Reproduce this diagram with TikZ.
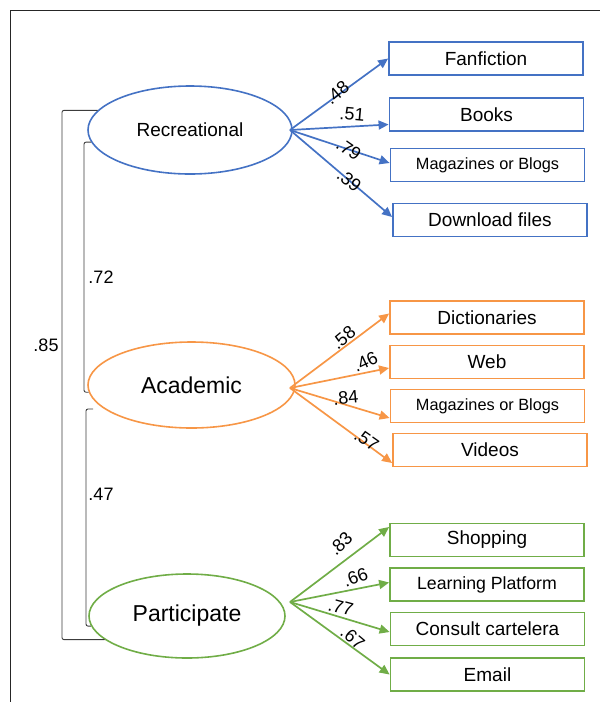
\documentclass[tikz,border=0pt]{standalone}
\usepackage{fontspec}
\setmainfont{Liberation Sans}
\usetikzlibrary{arrows.meta,shapes.geometric}
\definecolor{recblue}{RGB}{68,114,196}
\definecolor{acaorange}{RGB}{247,150,70}
\definecolor{pargreen}{RGB}{112,173,71}
\definecolor{brkgray}{RGB}{60,60,60}
\tikzset{
	factor/.style={ellipse, draw=#1, line width=1.6pt, text=black, inner sep=0pt},
	item/.style={draw=#1, line width=1.8pt, text=black, minimum width=194pt, minimum height=33pt, inner sep=0pt, font=\fontsize{19}{19}\selectfont},
	load/.style={line width=1.7pt, -{Triangle[length=10pt,width=9pt]}},
	lbl/.style={text=black, inner sep=0pt, font=\fontsize{18}{18}\selectfont},
	brk/.style={brkgray, line width=0.9pt, rounded corners=2pt},
}
\begin{document}
\begin{tikzpicture}[x=1pt,y=-1pt]
	\useasboundingbox (0,0) rectangle (600,702);
	\draw[line width=1pt, black!85] (10,702) -- (10,10) -- (600,10);

	% factors
	\node[factor=recblue, minimum width=204pt, minimum height=88pt, font=\fontsize{19}{19}\selectfont] (rec) at (190,130) {Recreational};
	\node[factor=acaorange, minimum width=207pt, minimum height=86pt, font=\fontsize{23}{23}\selectfont] (aca) at (191.5,385) {Academic};
	\node[factor=pargreen, minimum width=196pt, minimum height=84pt, font=\fontsize{23}{23}\selectfont] (par) at (187,616) {Participate};

	\coordinate (recout) at (290,130);
	\coordinate (acaout) at (290,388);
	\coordinate (parout) at (290,602);

	% items
	\node[item=recblue] (fan) at (486,58.5) {Fanfiction};
	\node[item=recblue] (books) at (486.5,114.5) {Books};
	\node[item=recblue, font=\fontsize{16.3}{16}\selectfont] (magrec) at (487.5,165) {Magazines or Blogs};
	\node[item=recblue] (down) at (490,220) {Download files};

	\node[item=acaorange] (dict) at (487,317.5) {Dictionaries};
	\node[item=acaorange] (web) at (487,362) {Web};
	\node[item=acaorange, font=\fontsize{16.3}{16}\selectfont] (magaca) at (487.5,406) {Magazines or Blogs};
	\node[item=acaorange] (vid) at (490,450) {Videos};

	\node[item=pargreen] (shop) at (487,540) {Shopping};
	\node[item=pargreen, font=\fontsize{17.7}{18}\selectfont] (learn) at (487,584.5) {Learning Platform};
	\node[item=pargreen] (consult) at (487.5,629) {Consult cartelera};
	\node[item=pargreen] (mail) at (487.5,674.5) {Email};

	% loadings
	\draw[load, recblue] (recout) -- (fan.west) node[lbl, pos=.48, yshift=3pt, rotate=40] {.48};
	\draw[load, recblue] (recout) -- ([yshift=-10pt]books.west) node[lbl, pos=.63, yshift=12pt, rotate=-5] {.51};
	\draw[load, recblue] (recout) -- ([yshift=2pt]magrec.west) node[lbl, pos=.59, rotate=-35] {.79};
	\draw[load, recblue] (recout) -- ([yshift=3pt]down.west) node[lbl, pos=.58, rotate=-40] {.39};

	\draw[load, acaorange] (acaout) -- ([yshift=4pt]dict.west) node[lbl, pos=.54, yshift=10pt, rotate=40] {.58};
	\draw[load, acaorange] (acaout) -- ([yshift=-6pt]web.west) node[lbl, pos=.76, yshift=11pt, rotate=25] {.46};
	\draw[load, acaorange] (acaout) -- ([yshift=-12pt]magaca.west) node[lbl, pos=.56, yshift=7pt, rotate=5] {.84};
	\draw[load, acaorange] (acaout) -- ([yshift=-13pt]vid.west) node[lbl, pos=.75, yshift=4pt, rotate=-35] {.57};

	\draw[load, pargreen] (parout) -- ([yshift=13pt]shop.west) node[lbl, pos=.51, yshift=20pt, rotate=45] {.83};
	\draw[load, pargreen] (parout) -- ([yshift=2pt]learn.west) node[lbl, pos=.66, yshift=12pt, rotate=20] {.66};
	\draw[load, pargreen] (parout) -- ([yshift=-3pt]consult.west) node[lbl, pos=.51, yshift=10pt, rotate=-15] {.77};
	\draw[load, pargreen] (parout) -- (mail.west) node[lbl, pos=.63, yshift=10pt, rotate=-40] {.67};

	% correlations
	\coordinate (outx) at (62,0);
	\coordinate (inxa) at (84,0);
	\coordinate (inxb) at (86,0);
	\coordinate (topb) at (93,409);
	\draw[brk] (rec.168) -- (rec.168 -| outx) -- (outx |- par.196) -- (par.196);
	\draw[brk] (rec.187) -- (rec.187 -| inxa) -- (inxa |- aca.184) -- (aca.184);
	\draw[brk] (topb) -- (topb -| inxb) -- (inxb |- par.186) -- (par.186);
	\node[lbl] (r85) at (46,345) {.85};
	\node[lbl] (r72) at (101,277) {.72};
	\node[lbl] (r47) at (101,494) {.47};
\end{tikzpicture}
\end{document}
